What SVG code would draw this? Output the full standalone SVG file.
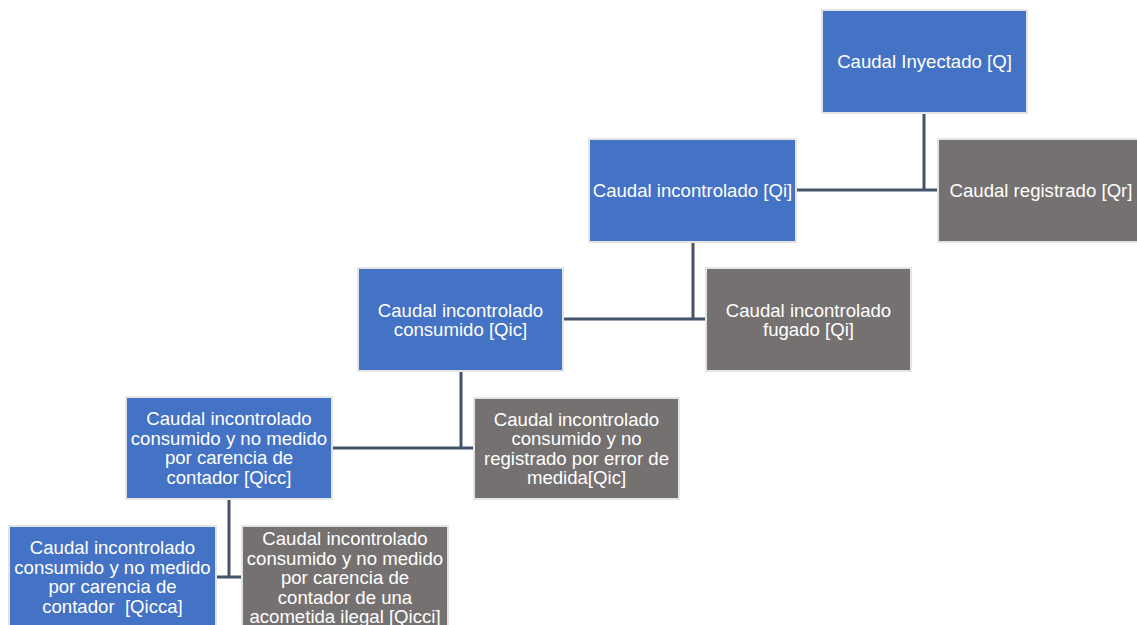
<svg xmlns="http://www.w3.org/2000/svg" width="1137" height="625" viewBox="0 0 1137 625">
<style>
.b{fill:#4472c4;stroke:#e4e4e4;stroke-width:2}
.g{fill:#767171;stroke:#e4e4e4;stroke-width:2}
text{font-family:"Liberation Sans",Arial,sans-serif;font-size:18.6px;fill:#ffffff;text-anchor:middle;white-space:pre}
.c{stroke:#44546a;stroke-width:3;fill:none}
</style>
<rect width="1137" height="625" fill="#ffffff"/>
<g id="connectors">
<path class="c" d="M924,113V190M797,190H938"/>
<path class="c" d="M693,242V319M564,319H706"/>
<path class="c" d="M461,372V448M332,448H474"/>
<path class="c" d="M229,500V577M216,577H242"/>
</g>
<g id="n-q"><rect class="b" x="822" y="10" width="205" height="103"/><text x="924.5" y="68">Caudal Inyectado [Q]</text></g>
<g id="n-qr"><rect class="g" x="938" y="139" width="206" height="103"/><text x="1041" y="197">Caudal registrado [Qr]</text></g>
<g id="n-qi"><rect class="b" x="589" y="139" width="207" height="103"/><text x="692.5" y="197">Caudal incontrolado [Qi]</text></g>
<g id="n-fug"><rect class="g" x="706" y="268" width="205" height="103"/><text x="808.5" y="316.5">Caudal incontrolado<tspan x="808.5" dy="19.5">fugado [Qi]</tspan></text></g>
<g id="n-qic"><rect class="b" x="358" y="268" width="205" height="103"/><text x="460.5" y="316.5">Caudal incontrolado<tspan x="460.5" dy="19.5">consumido [Qic]</tspan></text></g>
<g id="n-err"><rect class="g" x="474" y="398" width="205" height="101"/><text x="576.5" y="425.5">Caudal incontrolado<tspan x="576.5" dy="19.5">consumido y no</tspan><tspan x="576.5" dy="19.5">registrado por error de</tspan><tspan x="576.5" dy="19.5">medida[Qic]</tspan></text></g>
<g id="n-qicc"><rect class="b" x="126" y="397" width="206" height="102"/><text x="229" y="425">Caudal incontrolado<tspan x="229" dy="19.5">consumido y no medido</tspan><tspan x="229" dy="19.5">por carencia de</tspan><tspan x="229" dy="19.5">contador [Qicc]</tspan></text></g>
<g id="n-qicca"><rect class="b" x="9" y="526" width="207" height="103"/><text x="112.5" y="554">Caudal incontrolado<tspan x="112.5" dy="19.5">consumido y no medido</tspan><tspan x="112.5" dy="19.5">por carencia de</tspan><tspan x="112.5" dy="19.5">contador  [Qicca]</tspan></text></g>
<g id="n-qicci"><rect class="g" x="242" y="526" width="206" height="103"/><text x="345" y="545">Caudal incontrolado<tspan x="345" dy="19.5">consumido y no medido</tspan><tspan x="345" dy="19.5">por carencia de</tspan><tspan x="345" dy="19.5">contador de una</tspan><tspan x="345" dy="19.5">acometida ilegal [Qicci]</tspan></text></g>
</svg>
